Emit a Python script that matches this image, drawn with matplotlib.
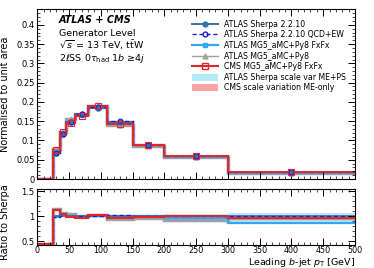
import numpy as np
import matplotlib
matplotlib.use("Agg")
import matplotlib.pyplot as plt
from matplotlib.lines import Line2D
from matplotlib.patches import Patch
from matplotlib.ticker import MultipleLocator

# ---- data ----
edges = [0, 25, 35, 45, 60, 80, 110, 150, 200, 300, 500]
sherpa = [0, 0.068, 0.116, 0.148, 0.168, 0.185, 0.148, 0.088, 0.060, 0.0175]
sherpa_qcdew = [0, 0.067, 0.117, 0.149, 0.168, 0.186, 0.151, 0.088, 0.060, 0.0176]
mg_fxfx = [0, 0.067, 0.118, 0.148, 0.166, 0.185, 0.148, 0.088, 0.058, 0.0152]
mg_py8 = [0, 0.078, 0.123, 0.155, 0.168, 0.190, 0.141, 0.085, 0.056, 0.0168]
cms_fxfx = [0, 0.076, 0.122, 0.146, 0.163, 0.189, 0.144, 0.087, 0.060, 0.017]
# scale-variation bands, as ratio to the nominal of each sample
sherpa_band_lo = [0, 0.97, 0.98, 0.98, 0.98, 0.98, 0.97, 0.96, 0.94, 0.89]
sherpa_band_hi = [0, 1.03, 1.02, 1.02, 1.02, 1.02, 1.02, 1.03, 1.05, 1.07]
cms_band_lo = [0, 0.985, 0.99, 0.99, 0.99, 0.99, 0.99, 0.985, 0.985, 0.98]
cms_band_hi = [0, 1.015, 1.01, 1.01, 1.01, 1.01, 1.01, 1.015, 1.015, 1.02]

labels = ["ATLAS Sherpa 2.2.10", "ATLAS Sherpa 2.2.10 QCD+EW",
          "ATLAS MG5_aMC+Py8 FxFx", "ATLAS MG5_aMC+Py8",
          "CMS MG5_aMC+Py8 FxFx", "ATLAS Sherpa scale var ME+PS",
          "CMS scale variation ME-only"]

c_sh = "#3474ad"
c_ew = "#1f1fd6"
c_fx = "#36a6f2"
c_mg = "#a0a0a0"
c_cms = "#e3242b"
c_shband = "#b5ebfb"
c_cmsband = "#ffa3a3"

edges_a = np.array(edges, float)
centers = 0.5 * (edges_a[1:] + edges_a[:-1])
sh = np.array(sherpa)
RLO, RHI = 0.43, 1.55
def ratio(v):
    v = np.array(v)
    r = np.divide(v, sh, out=np.zeros_like(v), where=sh > 0)
    return np.clip(r, RLO + 0.015, None)

plt.rcParams['font.family'] = ['DejaVu Sans']
fig = plt.figure(figsize=(3.74, 2.68), dpi=100)
ax = fig.add_axes([0.0997, 0.332, 0.8493, 0.633])
rx = fig.add_axes([0.0997, 0.0858, 0.8493, 0.2108])

# ---- top panel ----
shlo = sh * np.array(sherpa_band_lo)
shhi = sh * np.array(sherpa_band_hi)
cm = np.array(cms_fxfx)
ax.stairs(shhi, edges, baseline=shlo, fill=True, color=c_shband, lw=0)
ax.stairs(cm * np.array(cms_band_hi), edges, baseline=cm * np.array(cms_band_lo),
          fill=True, color=c_cmsband, lw=0)
ax.stairs(mg_py8, edges, baseline=None, color=c_mg, lw=2.5)
ax.stairs(mg_fxfx, edges, baseline=None, color=c_fx, lw=1.6)
ax.stairs(sherpa, edges, baseline=None, color=c_sh, lw=1.4)
ax.stairs(sherpa_qcdew, edges, baseline=None, color=c_ew, lw=1.0, linestyle=(0, (3, 2)))
ax.stairs(cms_fxfx, edges, baseline=None, color=c_cms, lw=1.5)
m = slice(1, None)
ax.plot(centers[m], np.array(mg_py8)[m], '^', color=c_mg, ms=3.5, ls='none')
ax.plot(centers[m], np.array(mg_fxfx)[m], 's', color=c_fx, ms=3, ls='none')
ax.plot(centers[m], sh[m], 'o', color=c_sh, ms=3.5, ls='none')
ax.plot(centers[m], np.array(sherpa_qcdew)[m], 'o', mfc='none', mec=c_ew, ms=3.5, ls='none', mew=0.8)
ax.plot(centers[m], cm[m], 's', mfc='none', mec=c_cms, ms=4, ls='none', mew=0.8)

ax.set_xlim(0, 500)
ax.set_ylim(0, 0.44)
ax.set_ylabel("Normalised to unit area", fontsize=7, labelpad=2)
ax.yaxis.set_minor_locator(MultipleLocator(0.01))
ax.set_yticks([0, 0.05, 0.1, 0.15, 0.2, 0.25, 0.3, 0.35, 0.4])
ax.set_yticklabels(["0", "0.05", "0.1", "0.15", "0.2", "0.25", "0.3", "0.35", "0.4"])
ax.xaxis.set_major_locator(MultipleLocator(50))
ax.xaxis.set_minor_locator(MultipleLocator(10))
ax.tick_params(labelbottom=False)

for a in (ax, rx):
    a.tick_params(which='both', direction='in', top=True, right=True, labelsize=6, pad=2)
    a.tick_params(which='major', length=5, width=0.7)
    a.tick_params(which='minor', length=2.5, width=0.5)
    for s in a.spines.values():
        s.set_linewidth(0.8)
rx.tick_params(axis='x', labelsize=5.8, pad=0.8)

tx = 0.068
ax.text(tx, 0.937, "ATLAS + CMS", transform=ax.transAxes, fontsize=7,
        fontweight='bold', fontstyle='italic', va='center')
ax.text(tx, 0.860, "Generator Level", transform=ax.transAxes, fontsize=6.8, va='center')
ax.text(tx, 0.787, r"$\sqrt{s}$ = 13 TeV, $\mathrm{t\bar{t}W}$", transform=ax.transAxes,
        fontsize=6.8, va='center')
ax.text(tx, 0.713, r"2ℓSS 0$\tau_{\mathrm{had}}$ 1$b$ ≥4$j$", transform=ax.transAxes,
        fontsize=6.8, va='center')

handles = [
    Line2D([], [], color=c_sh, lw=1.4, marker='o', ms=3.5),
    Line2D([], [], color=c_ew, lw=1.0, ls=(0, (3, 2)), marker='o', mfc='none', ms=3.5),
    Line2D([], [], color=c_fx, lw=1.6, marker='s', ms=3),
    Line2D([], [], color=c_mg, lw=1.0, marker='^', ms=3.5),
    Line2D([], [], color=c_cms, lw=1.5, marker='s', mfc='none', ms=4),
    Patch(color=c_shband, lw=0),
    Patch(color=c_cmsband, lw=0),
]
ax.legend(handles, labels, loc='upper left', bbox_to_anchor=(0.47, 0.97), frameon=False,
          fontsize=5.6, handlelength=3.3, handleheight=1.0, handletextpad=0.8,
          labelspacing=0.2, borderpad=0.2)

# ---- ratio panel ----
shrlo = np.array(sherpa_band_lo)
shrhi = np.array(sherpa_band_hi)
rx.stairs(shrhi, edges, baseline=shrlo, fill=True, color=c_shband, lw=0)
rc = ratio(cms_fxfx)
rx.stairs(rc * np.array(cms_band_hi), edges, baseline=rc * np.array(cms_band_lo),
          fill=True, color=c_cmsband, lw=0)
rx.stairs(ratio(mg_py8), edges, baseline=None, color=c_mg, lw=2.5)
rx.stairs(ratio(mg_fxfx), edges, baseline=None, color=c_fx, lw=1.6)
rx.stairs(ratio(sherpa), edges, baseline=None, color=c_sh, lw=1.2)
rx.stairs(ratio(sherpa_qcdew), edges, baseline=None, color=c_ew, lw=1.0, linestyle=(0, (3, 2)))
rx.stairs(rc, edges, baseline=None, color=c_cms, lw=1.5)

rx.set_xlim(0, 500)
rx.set_ylim(RLO, RHI)
rx.set_yticks([0.5, 1, 1.5])
rx.set_yticklabels(["0.5", "1", "1.5"])
rx.yaxis.set_minor_locator(MultipleLocator(0.1))
rx.xaxis.set_major_locator(MultipleLocator(50))
rx.xaxis.set_minor_locator(MultipleLocator(10))
rx.set_ylabel("Ratio to Sherpa", fontsize=7, labelpad=2)
rx.yaxis.set_label_coords(-0.085, 0.4)
ax.yaxis.set_label_coords(-0.085, 0.5)
rx.set_xlabel(r"Leading $b$-jet $p_{\mathrm{T}}$ [GeV]", fontsize=6.8, loc='right')
rx.xaxis.set_label_coords(1.0, -0.2)

fig.savefig("out.png", dpi=100)
